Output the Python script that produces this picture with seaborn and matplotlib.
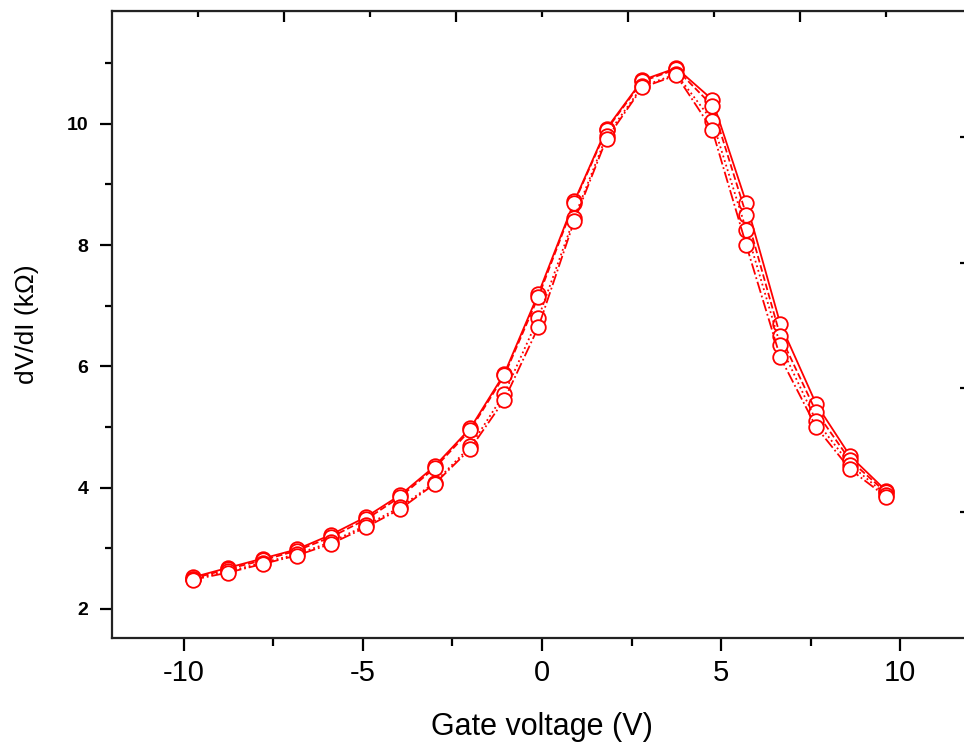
import matplotlib
matplotlib.use("Agg")
import matplotlib.pyplot as plt
import seaborn as sns
import numpy as np
import pandas as pd
from matplotlib.ticker import MultipleLocator, FixedLocator, NullFormatter

# ---- data ----
gate = [-9.75, -8.75, -7.8, -6.85, -5.9, -4.9, -3.95, -3.0, -2.0, -1.05,
        -0.1, 0.9, 1.8, 2.8, 3.75, 4.75, 5.7, 6.65, 7.65, 8.6, 9.6]
sweep_a = [2.52, 2.68, 2.83, 2.98, 3.22, 3.52, 3.88, 4.35, 4.98, 5.88,
           7.20, 8.72, 9.92, 10.72, 10.92, 10.40, 8.70, 6.70, 5.38, 4.52, 3.95]
sweep_b = [2.50, 2.66, 2.80, 2.96, 3.18, 3.48, 3.85, 4.32, 4.95, 5.85,
           7.15, 8.70, 9.90, 10.70, 10.90, 10.30, 8.50, 6.50, 5.25, 4.45, 3.92]
sweep_c = [2.50, 2.62, 2.76, 2.90, 3.10, 3.38, 3.68, 4.08, 4.68, 5.55,
           6.80, 8.45, 9.80, 10.62, 10.82, 10.05, 8.25, 6.35, 5.10, 4.38, 3.88]
sweep_d = [2.48, 2.60, 2.74, 2.88, 3.07, 3.35, 3.65, 4.06, 4.64, 5.45,
           6.65, 8.40, 9.75, 10.60, 10.80, 9.90, 8.00, 6.15, 5.00, 4.30, 3.85]
sweeps = {"a": sweep_a, "b": sweep_b, "c": sweep_c, "d": sweep_d}
styles = {"a": "-", "b": "--", "c": ":", "d": "-."}

x_ticks_major = [-10, -5, 0, 5, 10]
y_ticks_major = [2, 4, 6, 8, 10]

sns.set_style("ticks")
plt.rcParams['font.family'] = ['Liberation Sans', 'DejaVu Sans']
plt.rcParams['axes.unicode_minus'] = False
plt.rcParams['text.color'] = 'black'
plt.rcParams['axes.labelcolor'] = 'black'
plt.rcParams['xtick.color'] = 'black'
plt.rcParams['ytick.color'] = 'black'

W, H = 964, 749
fig = plt.figure(figsize=(W / 100, H / 100), dpi=100)
ax = fig.add_axes([112 / W, (H - 638) / H, (972 - 112) / W, (638 - 11) / H])

for key, vals in sweeps.items():
    sns.lineplot(x=gate, y=vals, ax=ax, color="red", linestyle=styles[key],
                 linewidth=1.3, marker="o", markersize=10.5,
                 markerfacecolor="white", markeredgecolor="red",
                 markeredgewidth=1.3, sort=False, legend=False)

ax.set_xlim(-12, 12)
ax.set_ylim(1.52, 11.86)

ax.xaxis.set_major_locator(FixedLocator(x_ticks_major))
ax.xaxis.set_minor_locator(MultipleLocator(2.5))
ax.yaxis.set_major_locator(FixedLocator(y_ticks_major))
ax.yaxis.set_minor_locator(MultipleLocator(1))

for s in ax.spines.values():
    s.set_linewidth(1.6)
    s.set_color("#222222")

ax.tick_params(axis="x", which="major", direction="out", length=9, width=1.6,
               labelsize=21, pad=6, top=False)
ax.tick_params(axis="x", which="minor", direction="out", length=5.5, width=1.6, top=False)
ax.tick_params(axis="y", which="major", direction="out", length=9, width=1.6,
               labelsize=14, pad=8, right=False)
ax.tick_params(axis="y", which="minor", direction="out", length=5, width=1.6, right=False)
for lab in ax.get_yticklabels():
    lab.set_fontweight("bold")

# secondary top / right axes with inward ticks, no labels
sec_x = ax.secondary_xaxis("top")
sec_x.xaxis.set_major_locator(FixedLocator([-7.2, -2.4, 2.4, 7.2]))
sec_x.xaxis.set_minor_locator(FixedLocator([-9.6, -4.8, 0.0, 4.8, 9.6]))
sec_x.xaxis.set_major_formatter(NullFormatter())
sec_x.tick_params(which="major", direction="in", length=8, width=1.6)
sec_x.tick_params(which="minor", direction="in", length=4, width=1.6)

sec_y = ax.secondary_yaxis("right")
sec_y.yaxis.set_major_locator(FixedLocator([9.786, 7.71, 5.64, 3.60]))
sec_y.yaxis.set_major_formatter(NullFormatter())
sec_y.tick_params(which="major", direction="in", length=9, width=1.6)
sec_y.tick_params(which="minor", length=0)

ax.set_xlabel("Gate voltage (V)", fontsize=22, labelpad=18)
ax.set_ylabel("dV/dI (kΩ)", fontsize=19, labelpad=20)

fig.savefig("out.png", dpi=100)
